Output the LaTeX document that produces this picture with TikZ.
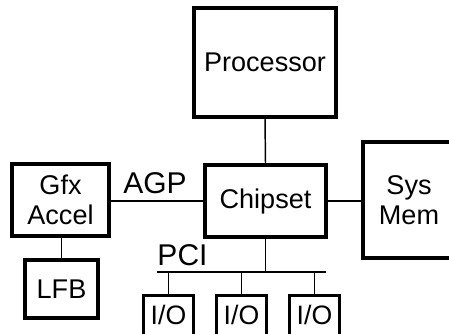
\documentclass[tikz,border=0pt]{standalone}
\usepackage{fontspec}
\setmainfont{Liberation Sans}
\begin{document}
\begin{tikzpicture}[x=0.75pt,y=-0.75pt,
  box/.style={draw,line width=2.5pt,rectangle,inner sep=0pt,align=center,
    font=\fontsize{20.3}{22.5}\selectfont},
  iobox/.style={box,font=\fontsize{20}{22}\selectfont},
  wire/.style={line width=1.1pt},
  lbl/.style={inner sep=0pt,font=\fontsize{22.5}{24}\selectfont}]
\clip (0,0) rectangle (449,333);
\useasboundingbox (0,0) rectangle (449,333);
\node[box,minimum width=106.5pt,minimum height=81.75pt] (proc) at (265,62.5) {Processor};
\node[box,minimum width=90.75pt,minimum height=54pt] (chip) at (265.5,201) {Chipset};
\node[box,minimum width=72.75pt,minimum height=54pt] (gfx) at (60.5,200) {Gfx\\Accel};
\node[box,minimum width=54.75pt,minimum height=43.5pt] (lfb) at (61.5,289) {LFB};
\node[box,minimum width=69pt,minimum height=87pt] (mem) at (409,200) {Sys\\Mem};
\node[iobox,minimum width=37.5pt,minimum height=32pt,text depth=2.5pt] (io1) at (168.5,316.5) {I/O};
\node[iobox,minimum width=37.5pt,minimum height=32pt,text depth=2.5pt] (io2) at (241.5,316.5) {I/O};
\node[iobox,minimum width=37.5pt,minimum height=32pt,text depth=2.5pt] (io3) at (314.5,316.5) {I/O};
\coordinate (busL) at (157,272);
\coordinate (busR) at (326,272);
\coordinate (busC) at (265.5,272);
\draw[wire] (proc.south) -- (chip.north);
\draw[wire] (gfx.east |- chip.west) -- (chip.west);
\draw[wire] (chip.east) -- (mem.west |- chip.east);
\draw[wire] (gfx.south -| lfb.north) -- (lfb.north);
\draw[wire] (chip.south) -- (busC);
\draw[wire] (busL) -- (busR);
\draw[wire] (io1.north |- busL) -- (io1.north);
\draw[wire] (io2.north |- busL) -- (io2.north);
\draw[wire] (io3.north |- busL) -- (io3.north);
\node[lbl,anchor=base] (agp) at (155,193) {AGP};
\node[lbl,anchor=base] (pci) at (182.5,265) {PCI};
\end{tikzpicture}
\end{document}
